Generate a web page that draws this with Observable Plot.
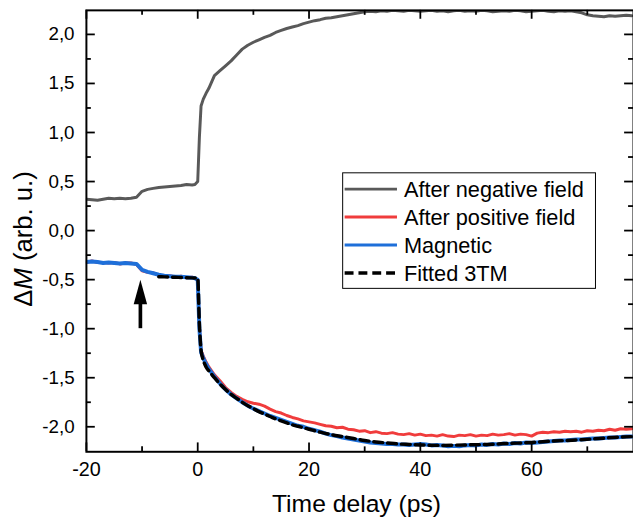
<!DOCTYPE html>
<html><head><meta charset="utf-8">
<script src="https://cdn.jsdelivr.net/npm/d3@7"></script>
<script src="https://cdn.jsdelivr.net/npm/@observablehq/plot@0.6"></script>
<style>
html,body{margin:0;padding:0;background:#fff;}
#chart{width:633px;height:527px;overflow:hidden;position:relative;}
</style></head><body><div id="chart"></div>
<script>
const timeData = [-20,-19,-18,-17,-16,-15,-14,-13,-12,-11,-10,-9,-8,-7,-6,-5,-4,-3,-2,-1,
  -0.5,0,0.3,0.6,1,1.5,2,
  3,4,5,6,7,8,9,10,11,12,13,14,15,16,17,18,19,20,21,22,23,24,25,26,27,28,29,30,
  31,32,33,34,35,36,37,38,39,40,41,42,43,44,45,46,47,48,49,50,51,52,53,54,55,56,57,58,59,60,
  61,62,63,64,65,66,67,68,69,70,71,72,73,74,75,76,77,78];

const negField = [0.32,0.315,0.31,0.32,0.33,0.325,0.33,0.325,0.33,0.34,0.40,0.42,0.43,0.44,0.445,0.45,0.455,0.46,0.47,0.465,
  0.47,0.50,0.95,1.27,1.34,1.40,1.45,
  1.58,1.63,1.68,1.73,1.79,1.85,1.89,1.92,1.945,1.97,1.99,2.02,2.04,2.06,2.075,2.09,2.11,2.125,2.14,2.15,2.165,2.17,2.18,2.19,2.20,2.21,2.22,2.23,
  2.235,2.23,2.24,2.235,2.245,2.24,2.235,2.245,2.24,2.235,
  2.24,2.245,2.235,2.24,2.23,2.24,2.245,2.235,2.24,2.235,
  2.245,2.24,2.23,2.235,2.24,2.235,2.245,2.24,2.23,2.235,
  2.24,2.245,2.235,2.23,2.24,2.235,2.24,2.23,
  2.22,2.20,2.19,2.185,2.18,2.19,2.185,2.19,2.195,2.19];

const posField = [-0.325,-0.31,-0.325,-0.325,-0.33,-0.325,-0.34,-0.33,-0.33,-0.345,-0.41,-0.425,-0.43,-0.455,-0.46,-0.46,-0.475,-0.465,-0.48,-0.475,
  -0.49,-0.50,-0.98,-1.22,-1.28,-1.34,-1.39,
  -1.47,-1.53,-1.60,-1.65,-1.69,-1.72,-1.745,-1.76,-1.77,-1.79,-1.82,-1.845,-1.86,-1.885,-1.905,-1.92,-1.94,-1.95,-1.96,-1.975,-1.99,-1.995,-2.01,-2.005,-2.025,-2.03,-2.045,-2.04,
  -2.06,-2.05,-2.065,-2.07,-2.06,-2.075,-2.08,-2.07,-2.085,-2.075,
  -2.09,-2.085,-2.095,-2.08,-2.095,-2.1,-2.085,-2.09,-2.08,-2.095,
  -2.085,-2.09,-2.075,-2.085,-2.08,-2.07,-2.085,-2.075,-2.08,-2.095,
  -2.065,-2.055,-2.06,-2.05,-2.055,-2.045,-2.05,-2.045,
  -2.055,-2.04,-2.045,-2.035,-2.04,-2.025,-2.035,-2.02,-2.025,-2.02];

const magnetic = [-0.32,-0.315,-0.32,-0.33,-0.325,-0.33,-0.335,-0.33,-0.335,-0.34,-0.40,-0.42,-0.435,-0.45,-0.46,-0.465,-0.47,-0.47,-0.475,-0.48,
  -0.485,-0.50,-1.0,-1.24,-1.30,-1.36,-1.41,
  -1.49,-1.56,-1.62,-1.67,-1.71,-1.75,-1.785,-1.815,-1.84,-1.865,-1.89,-1.91,-1.93,-1.95,-1.97,-1.99,-2.00,-2.02,-2.035,-2.05,-2.07,-2.085,-2.095,-2.11,-2.12,-2.13,-2.14,-2.15,
  -2.16,-2.165,-2.17,-2.175,-2.175,-2.18,-2.18,-2.185,-2.18,-2.175,
  -2.18,-2.19,-2.185,-2.19,-2.2,-2.195,-2.2,-2.19,-2.185,-2.19,
  -2.18,-2.185,-2.175,-2.18,-2.17,-2.175,-2.165,-2.17,-2.16,-2.165,
  -2.16,-2.155,-2.15,-2.145,-2.14,-2.14,-2.135,-2.13,
  -2.13,-2.125,-2.12,-2.12,-2.115,-2.11,-2.11,-2.105,-2.1,-2.1];

const fitTime = [-7,-6,-5,-4,-3,-2,-1,0,0.3,0.6,1,1.5,2,3,4,5,6,7,8,9,10,11,12,13,14,15,16,17,18,19,20,
  22,24,26,28,30,32,34,36,38,40,44,48,52,56,60,64,68,72,76,78];
const fitValues = [-0.47,-0.472,-0.474,-0.476,-0.478,-0.48,-0.482,-0.485,-0.95,-1.22,-1.32,-1.39,-1.43,
  -1.50,-1.565,-1.62,-1.67,-1.71,-1.75,-1.785,-1.815,-1.845,-1.87,-1.895,-1.92,-1.94,-1.96,-1.98,-1.995,-2.01,-2.025,
  -2.055,-2.08,-2.10,-2.12,-2.14,-2.155,-2.165,-2.175,-2.18,-2.185,
  -2.19,-2.185,-2.18,-2.17,-2.16,-2.145,-2.135,-2.12,-2.105,-2.1];

const seriesNames = ["After negative field", "After positive field", "Magnetic", "Fitted 3TM"];
const seriesColors = ["#595959", "#f03c3c", "#1e6fd9", "#000000"];

const xTicks = [-20, 0, 20, 40, 60];
const xMinorTicks = [-10, 10, 30, 50, 70];
const yTicks = [-2, -1.5, -1, -0.5, 0, 0.5, 1, 1.5, 2];
const yMinorTicks = [-1.75, -1.25, -0.75, -0.25, 0.25, 0.75, 1.25, 1.75];

const xTitle = "Time delay (ps)";
const yTitleParts = ["Δ", "M", " (arb. u.)"];

// annotation arrow (time, tip, tail)
const arrowNote = [{t: -10.3, tip: -0.50, base: -0.72, tail: -1.0}];

const toRows = (ys) => timeData.map((t, i) => ({t, m: ys[i]}));
const negRows = toRows(negField);
const posRows = toRows(posField);
const magRows = toRows(magnetic);
const fitRows = fitTime.map((t, i) => ({t, m: fitValues[i]}));

const fmtX = d => String(d);
const fmtY = d => d.toFixed(1).replace(".", ",");

const arrowHead = {draw(ctx) { ctx.moveTo(0, 0); ctx.lineTo(6.8, 25); ctx.lineTo(-6.8, 25); ctx.closePath(); }};

const font = "'Liberation Sans', Arial, sans-serif";
const W = 641, H = 527, ML = 87, MR = 0, MT = 10, MB = 70;
const FW = W - ML - MR, FH = H - MT - MB;
const MAJ = 9, MIN = 5;
const tk = {stroke: "black", strokeWidth: 1.8};

const plot = Plot.plot({
  width: W, height: H,
  marginLeft: ML, marginRight: MR, marginTop: MT, marginBottom: MB,
  style: {fontFamily: font, fontSize: "19px", background: "white", color: "black", overflow: "visible"},
  x: {domain: [-20, 78.3]},
  y: {domain: [-2.255, 2.245]},
  marks: [
    Plot.line(negRows, {x: "t", y: "m", stroke: seriesColors[0], strokeWidth: 3, clip: true}),
    Plot.line(posRows, {x: "t", y: "m", stroke: seriesColors[1], strokeWidth: 3, clip: true}),
    Plot.line(magRows, {x: "t", y: "m", stroke: seriesColors[2], strokeWidth: 4, clip: true}),
    Plot.line(fitRows, {x: "t", y: "m", stroke: seriesColors[3], strokeWidth: 3.5, strokeDasharray: "9,5", curve: "monotone-x", clip: true}),
    Plot.ruleX(arrowNote, {x: "t", y1: "tail", y2: "base", stroke: "black", strokeWidth: 3.7}),
    Plot.dot(arrowNote, {x: "t", y: "tip", symbol: arrowHead, fill: "black", stroke: "none"}),
    // inward ticks: bottom / top
    Plot.tickX(xTicks, {x: d => d, insetTop: FH - MAJ, ...tk}),
    Plot.tickX(xMinorTicks, {x: d => d, insetTop: FH - MIN, ...tk}),
    Plot.tickX(xTicks, {x: d => d, insetBottom: FH - MAJ, ...tk}),
    Plot.tickX(xMinorTicks, {x: d => d, insetBottom: FH - MIN, ...tk}),
    // inward ticks: left / right
    Plot.tickY(yTicks, {y: d => d, insetRight: FW - MAJ, ...tk}),
    Plot.tickY(yMinorTicks, {y: d => d, insetRight: FW - MIN, ...tk}),
    Plot.tickY(yTicks, {y: d => d, insetLeft: FW - MAJ, ...tk}),
    Plot.tickY(yMinorTicks, {y: d => d, insetLeft: FW - MIN, ...tk}),
    Plot.frame({stroke: "black", strokeWidth: 2}),
    Plot.axisX(xTicks, {anchor: "bottom", tickSize: 0, tickPadding: 10, tickFormat: fmtX, fontSize: 20, label: null}),
    Plot.axisY(yTicks, {anchor: "left", tickSize: 0, tickPadding: 12, tickFormat: fmtY, fontSize: 19, label: null})
  ]
});

document.getElementById("chart").appendChild(plot);

const svg = d3.select(plot);
// x title
svg.append("text")
  .attr("x", 361).attr("y", 518)
  .attr("text-anchor", "middle")
  .attr("font-family", font).attr("font-size", 25).attr("fill", "black")
  .text(xTitle);
// y title
const yt = svg.append("text")
  .attr("transform", "translate(32,242) rotate(-90)")
  .attr("text-anchor", "middle")
  .attr("font-family", font).attr("font-size", 26).attr("fill", "black");
yt.append("tspan").text(yTitleParts[0]);
yt.append("tspan").attr("font-style", "italic").text(yTitleParts[1]);
yt.append("tspan").text(yTitleParts[2]);

// legend
const lg = svg.append("g");
lg.append("rect").attr("x", 347).attr("y", 175).attr("width", 256).attr("height", 117)
  .attr("fill", "white").attr("stroke", "black").attr("stroke-width", 1);
seriesNames.forEach((name, i) => {
  const cy = 191.5 + i * 28.3;
  lg.append("line").attr("x1", 349).attr("x2", 402).attr("y1", cy).attr("y2", cy)
    .attr("stroke", seriesColors[i]).attr("stroke-width", i === 3 ? 3.5 : 3)
    .attr("stroke-dasharray", i === 3 ? "9,5" : null);
  lg.append("text").attr("x", 409).attr("y", cy).attr("dy", "0.35em")
    .attr("text-anchor", "start")
    .attr("font-family", font).attr("font-size", 22).attr("fill", "black").text(name);
});
</script>
</body></html>
